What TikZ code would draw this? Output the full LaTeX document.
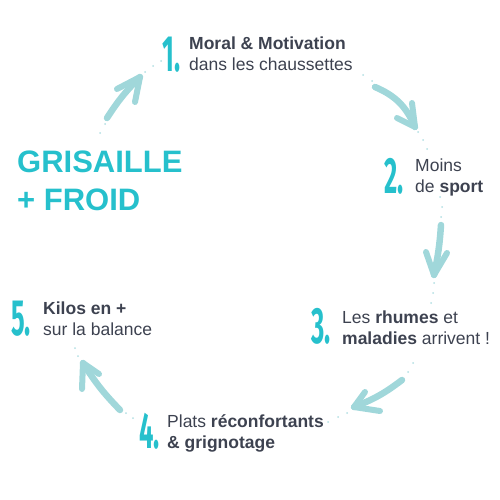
\documentclass[tikz,border=0pt]{standalone}
\usepackage{fontspec}
\setmainfont{Liberation Sans}
\newfontfamily\numfont[FakeStretch=0.5]{Fira Sans}
\definecolor{txtc}{HTML}{3D4250}
\definecolor{numc}{HTML}{26C0CC}
\definecolor{arrc}{HTML}{A0D7DA}
\definecolor{dotc}{HTML}{B3DFE3}
\tikzset{
  lbl/.style={anchor=base west, inner sep=0pt, align=left, text=txtc,
    font=\fontsize{17.5}{21}\selectfont},
  numlbl/.style={anchor=base west, inner sep=0pt, text=numc,
    font=\numfont\fontsize{51}{51}\selectfont},
  titlelbl/.style={anchor=base west, inner sep=0pt, text=numc,
    font=\bfseries\fontsize{31}{38}\selectfont},
  shaft/.style={draw=arrc, line width=6.5pt, line cap=round},
  arm/.style={draw=arrc, line width=6pt, line cap=round, line join=round},
  pdot/.style={fill=dotc}
}
\begin{document}
\begin{tikzpicture}[x=1pt,y=-1pt]
\useasboundingbox (0,0) rectangle (500,500);
% title
\node[titlelbl] (t1) at (17,172) {GRISAILLE};
\node[titlelbl] (t2) at (17,210) {+ FROID};
% numerals
\node[numlbl] (n1) at (162,72) {\bfseries 1.};
\node[numlbl] (n2) at (384,193) {\bfseries 2.};
\node[numlbl] (n3) at (311,343) {\bfseries 3.};
\node[numlbl] (n4) at (139,448) {\bfseries 4.};
\node[numlbl] (n5) at (11,335) {\bfseries 5.};
% texts (anchor = baseline of last line)
\node[lbl] (l1) at (189,71) {\textbf{Moral \& Motivation}\\dans les chaussettes};
\node[lbl] (l2) at (415,192) {Moins\\de \textbf{sport}};
\node[lbl] (l3) at (342,344) {Les \textbf{rhumes} et\\\textbf{maladies} arrivent !};
\node[lbl] (l4) at (167,448) {Plats \textbf{réconfortants}\\\textbf{\& grignotage}};
\node[lbl] (l5) at (43,335) {\textbf{Kilos en +}\\sur la balance};
% arrow A (5 -> 1)
\coordinate (aS) at (107,118); \coordinate (aT) at (140,77);
\coordinate (aL) at (117,89); \coordinate (aR) at (135,102);
\draw[shaft] (aS) to[bend left=6] (aT);
\draw[arm] (aL) -- (aT) -- (aR);
% arrow B (1 -> 2)
\coordinate (bS) at (375,87); \coordinate (bT) at (415,127);
\coordinate (bL) at (397,118); \coordinate (bR) at (412,103);
\draw[shaft] (bS) to[bend left=22] (bT);
\draw[arm] (bL) -- (bT) -- (bR);
% arrow C (2 -> 3)
\coordinate (cS) at (441,225); \coordinate (cT) at (434,275);
\coordinate (cL) at (426,252); \coordinate (cR) at (447,253);
\draw[shaft] (cS) to[bend left=4] (cT);
\draw[arm] (cL) -- (cT) -- (cR);
% arrow D (3 -> 4)
\coordinate (dS) at (402,380); \coordinate (dT) at (354,407);
\coordinate (dL) at (365,392); \coordinate (dR) at (380,411);
\draw[shaft] (dS) to[bend left=8] (dT);
\draw[arm] (dL) -- (dT) -- (dR);
% arrow E (4 -> 5)
\coordinate (eS) at (120,410); \coordinate (eT) at (83,363);
\coordinate (eL) at (82,389); \coordinate (eR) at (99,374);
\draw[shaft] (eS) to[bend left=6] (eT);
\draw[arm] (eL) -- (eT) -- (eR);
% dots
\foreach \p in {(105,124),(100,133),(145,72),(153,66),(161,61),
  (363,75),(372,81),(418,132),(423,140),(427,149),
  (440,197),(442,207),(441,217),(434,283),(433,293),(431,303),
  (413,363),(408,372),(347,413),(338,417),(328,422),
  (133,418),(126,413),(78,356),(75,348)}
  \fill[pdot] \p circle (1pt);
\end{tikzpicture}
\end{document}
